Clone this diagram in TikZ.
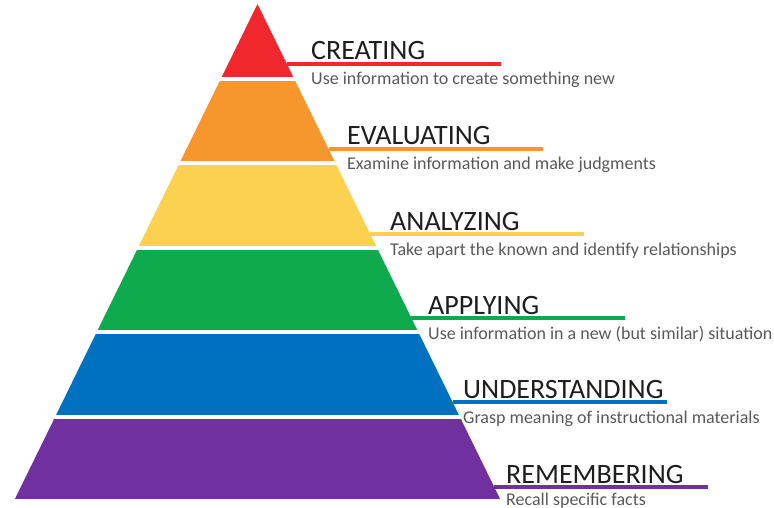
\documentclass[tikz,border=0pt]{standalone}
\usepackage{fontspec}
\setmainfont{Carlito}

\definecolor{createred}{HTML}{F0282D}
\definecolor{evalorange}{HTML}{F7962D}
\definecolor{analyzeyellow}{HTML}{FDD150}
\definecolor{applygreen}{HTML}{0EAA4D}
\definecolor{understandblue}{HTML}{0070C0}
\definecolor{rememberpurple}{HTML}{7030A0}
\definecolor{namegray}{HTML}{1E1E1E}
\definecolor{textgray}{HTML}{595959}

\tikzstyle{levelname} = [anchor=base west, inner sep=0pt, font=\fontsize{28}{32}\selectfont, text=namegray]
\tikzstyle{leveltext} = [anchor=base west, inner sep=0pt, font=\fontsize{18}{21}\selectfont, text=textgray]
\tikzstyle{bar} = [line width=4pt]

\begin{document}
\begin{tikzpicture}[x=1pt,y=-1pt]
\useasboundingbox (0,0) rectangle (774,508);

% pyramid bands
\begin{scope}
\clip (257.5,4) -- (500.1,499) -- (14.9,499) -- cycle;
\fill[createred] (0,0) rectangle (774,77);
\fill[evalorange] (0,81) rectangle (774,161);
\fill[analyzeyellow] (0,165) rectangle (774,246);
\fill[applygreen] (0,250) rectangle (774,330);
\fill[understandblue] (0,334) rectangle (774,415);
\fill[rememberpurple] (0,419) rectangle (774,499);
\end{scope}

% points on the right edge
\coordinate (cre) at (286.9,64);
\coordinate (eva) at (328.6,149);
\coordinate (ana) at (370.2,234);
\coordinate (app) at (411.4,318);
\coordinate (und) at (452.5,402);
\coordinate (rem) at (494.2,487);

\draw [bar, createred] (cre) -- ++(214,0);
\draw [bar, evalorange] (eva) -- ++(214,0);
\draw [bar, analyzeyellow] (ana) -- ++(214,0);
\draw [bar, applygreen] (app) -- ++(214,0);
\draw [bar, understandblue] (und) -- ++(214,0);
\draw [bar, rememberpurple] (rem) -- ++(214,0);

\node (creating) [levelname] at (311,60) {CREATING};
\node (creatingtxt) [leveltext] at (311,85) {Use information to create something new};
\node (evaluating) [levelname] at (347,145) {EVALUATING};
\node (evaluatingtxt) [leveltext] at (347,170) {Examine information and make judgments};
\node (analyzing) [levelname] at (390,230) {ANALYZING};
\node (analyzingtxt) [leveltext] at (390,255) {Take apart the known and identify relationships};
\node (applying) [levelname] at (428,314) {APPLYING};
\node (applyingtxt) [leveltext] at (428,339) {Use information in a new (but similar) situation};
\node (understanding) [levelname] at (463,398) {UNDERSTANDING};
\node (understandingtxt) [leveltext] at (463,423) {Grasp meaning of instructional materials};
\node (remembering) [levelname] at (506,483) {REMEMBERING};
\node (rememberingtxt) [leveltext] at (506,505) {Recall specific facts};

\end{tikzpicture}
\end{document}
